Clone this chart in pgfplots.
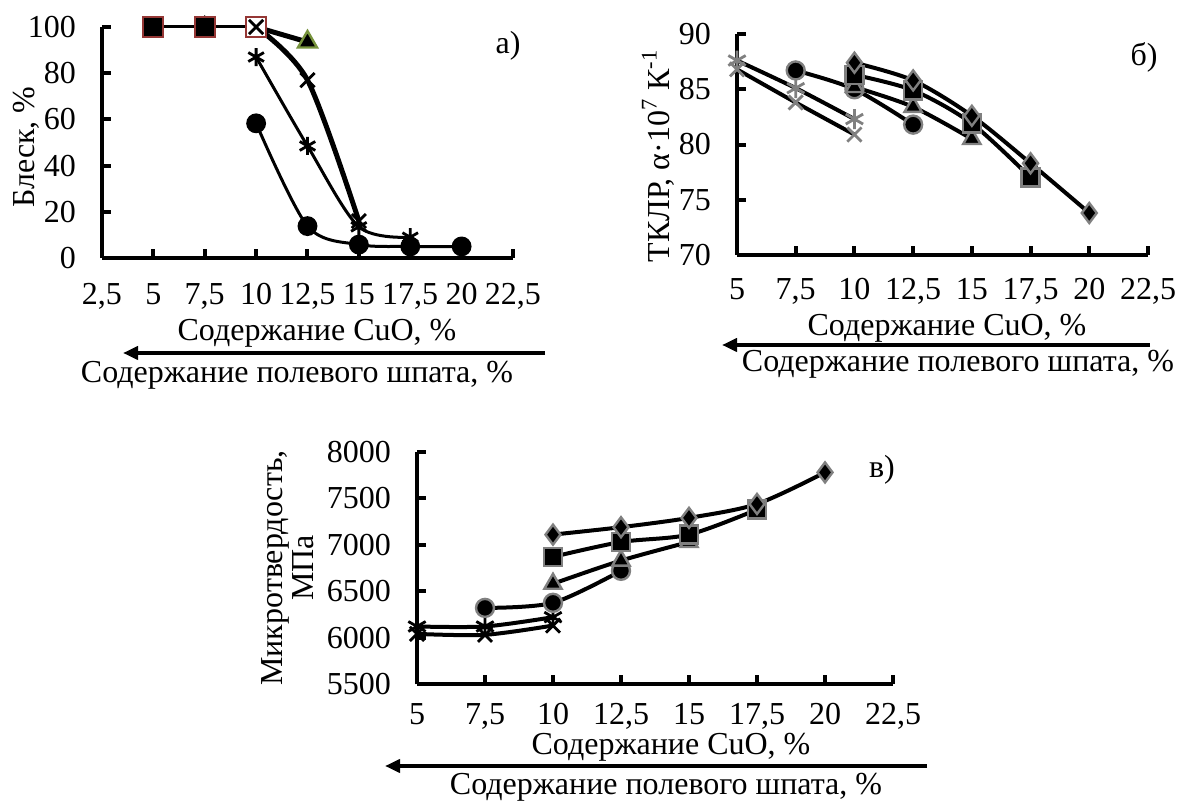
\documentclass[border=0pt]{standalone}
\usepackage{fontspec}
\setmainfont{Liberation Serif}
\usepackage{pgfplots}
\pgfplotsset{compat=1.18}
\usetikzlibrary{arrows.meta}
\definecolor{edgered}{RGB}{149,55,53}
\definecolor{edgegreen}{RGB}{119,147,60}
\definecolor{mgray}{RGB}{128,128,128}
\newcommand\fs{\fontsize{16}{19}\selectfont}
\pgfplotsset{
  myaxis/.style={
    scale only axis, anchor=south west,
    axis x line*=bottom, axis y line*=left,
    axis line style={line width=2pt,-},
    xtick pos=bottom, ytick pos=left,
    xtick align=inside, ytick align=inside,
    major tick length=4.5pt,
    major tick style={line width=2pt,black},
    tick label style={font=\fs},
    clip=false,
  },
  gmark/.style={mark options={solid,fill=black,draw=mgray,line width=1.2pt}},
}
\begin{document}
\begin{tikzpicture}[font=\fs]
\useasboundingbox (0,0) rectangle (590pt,-401pt);

% ---------------- panel a ----------------
\begin{axis}[myaxis, at={(51pt,-129pt)}, width=205.5pt, height=115.5pt,
  xmin=2.5, xmax=22.5, ymin=0, ymax=100,
  xtick={2.5,5,7.5,10,12.5,15,17.5,20,22.5},
  xticklabels={{2,5},5,{7,5},10,{12,5},15,{17,5},20,{22,5}},
  ytick={0,20,40,60,80,100}, yticklabels={0,20,40,60,80,100},
  xticklabel style={yshift=-9.3pt}, yticklabel style={xshift=-9.5pt}]
\addplot[only marks, mark=triangle*, mark size=5pt, mark options={fill=black,draw=black}] coordinates {(7.5,100.5)};
\addplot[black, line width=1.5pt, mark=square*, mark size=5pt, mark indices={1,2},
  mark options={solid,fill=black,draw=edgered,line width=1pt}] coordinates {(5,100)(7.5,100)(10,100)};
\addplot[only marks, mark=square*, mark size=5pt, mark options={fill=white,draw=edgered,line width=1pt}] coordinates {(10,100)};
\addplot[black, line width=2.5pt, mark=triangle*, mark size=5.5pt, mark indices={2},
  mark options={solid,fill=black,draw=edgegreen,line width=1.2pt}] coordinates {(10,100)(12.5,93.5)};
\addplot[black, line width=2.5pt, smooth, mark=x, mark size=5pt,
  mark options={solid,line width=1.4pt}] coordinates {(10,100)(12.5,77)(15,16)};
\addplot[black, line width=1.5pt, smooth, mark=asterisk, mark size=4.5pt,
  mark options={solid,line width=1.4pt}] coordinates {(10,87)(12.5,48.5)(15,13.5)(17.5,9)};
\addplot[black, line width=1.5pt, smooth, mark=*, mark size=4.2pt] coordinates {(10,58.3)(12.5,13.8)(15,5.8)(17.5,5)(20,5)};
\end{axis}

% ---------------- panel b ----------------
\begin{axis}[myaxis, at={(368.5pt,-127.5pt)}, width=205.5pt, height=110.5pt,
  xmin=5, xmax=22.5, ymin=70, ymax=90,
  xtick={5,7.5,10,12.5,15,17.5,20,22.5},
  xticklabels={5,{7,5},10,{12,5},15,{17,5},20,{22,5}},
  ytick={70,75,80,85,90}, yticklabels={70,75,80,85,90},
  xticklabel style={yshift=-8.3pt}, yticklabel style={xshift=-9.5pt}]
\addplot[black, line width=2pt, smooth, mark=x, mark size=5pt,
  mark options={solid,draw=mgray,line width=1.4pt}] coordinates {(5,86.8)(7.5,83.8)(10,80.9)};
\addplot[black, line width=2pt, smooth, mark=asterisk, mark size=5pt,
  mark options={solid,draw=mgray,line width=1.4pt}] coordinates {(5,87.6)(7.5,85.1)(10,82.3)};
\addplot[black, line width=2pt, smooth, mark=*, mark size=4.5pt, gmark] coordinates {(7.5,86.7)(10,85)(12.5,81.8)};
\addplot[black, line width=2pt, smooth, mark=triangle*, mark size=5pt, gmark] coordinates {(10,85.2)(12.5,83.4)(15,80.5)};
\addplot[black, line width=2pt, smooth, mark=square*, mark size=4.5pt, gmark] coordinates {(10,86.3)(12.5,84.9)(15,81.9)(17.5,77)};
\addplot[black, line width=2pt, smooth, mark=diamond*, mark size=5pt, gmark] coordinates {(10,87.4)(12.5,85.8)(15,82.6)(17.5,78.3)(20,73.8)};
\end{axis}

% ---------------- panel v ----------------
\begin{axis}[myaxis, at={(208.5pt,-342pt)}, width=238pt, height=116pt,
  xmin=5, xmax=22.5, ymin=5500, ymax=8000,
  xtick={5,7.5,10,12.5,15,17.5,20,22.5},
  xticklabels={5,{7,5},10,{12,5},15,{17,5},20,{22,5}},
  ytick={5500,6000,6500,7000,7500,8000}, yticklabels={5500,6000,6500,7000,7500,8000},
  xticklabel style={yshift=-6.3pt}, yticklabel style={xshift=-9.5pt}]
\addplot[black, line width=2pt, smooth, mark=x, mark size=5pt,
  mark options={solid,draw=black,line width=1.4pt}] coordinates {(5,6040)(7.5,6030)(10,6130)};
\addplot[black, line width=2pt, smooth, mark=asterisk, mark size=5pt,
  mark options={solid,draw=black,line width=1.4pt}] coordinates {(5,6120)(7.5,6120)(10,6220)};
\addplot[black, line width=2pt, smooth, mark=*, mark size=4.5pt, gmark] coordinates {(7.5,6320)(10,6375)(12.5,6720)};
\addplot[black, line width=2pt, smooth, mark=triangle*, mark size=5pt, gmark] coordinates {(10,6580)(12.5,6830)(15,7030)};
\addplot[black, line width=2pt, smooth, mark=square*, mark size=4.5pt, gmark] coordinates {(10,6870)(12.5,7030)(15,7110)(17.5,7380)};
\addplot[black, line width=2pt, smooth, mark=diamond*, mark size=5pt, gmark] coordinates {(10,7110)(12.5,7190)(15,7290)(17.5,7440)(20,7780)};
\end{axis}

% ---------------- texts and arrows ----------------
\node at (254pt,-23pt) {а)};
\node[rotate=90] at (13pt,-73.5pt) {Блеск, \%};
\node at (158.5pt,-166.5pt) {Содержание CuO, \%};
\draw[line width=2pt,-{Triangle[length=7.5pt,width=6.5pt]}] (272.5pt,-176.5pt) -- (61.5pt,-176.5pt);
\node at (148.5pt,-187.5pt) {Содержание полевого шпата, \%};

\node at (572pt,-28.5pt) {б)};
\node[rotate=90] at (329pt,-78pt) {ТКЛР, α·10\textsuperscript{7} К\textsuperscript{-1}};
\node at (473.5pt,-164pt) {Содержание CuO, \%};
\draw[line width=2pt,-{Triangle[length=7.5pt,width=6.5pt]}] (575pt,-172.5pt) -- (361pt,-172.5pt);
\node at (479pt,-182pt) {Содержание полевого шпата, \%};

\node at (441pt,-235pt) {в)};
\node[rotate=90,align=center,font=\fontsize{16}{15.5}\selectfont] at (143.75pt,-284pt) {Микротвердость,\\МПа};
\node at (335.5pt,-373.5pt) {Содержание CuO, \%};
\draw[line width=2pt,-{Triangle[length=7.5pt,width=6.5pt]}] (463.5pt,-383pt) -- (192.5pt,-383pt);
\node at (333pt,-393.5pt) {Содержание полевого шпата, \%};
\end{tikzpicture}
\end{document}
